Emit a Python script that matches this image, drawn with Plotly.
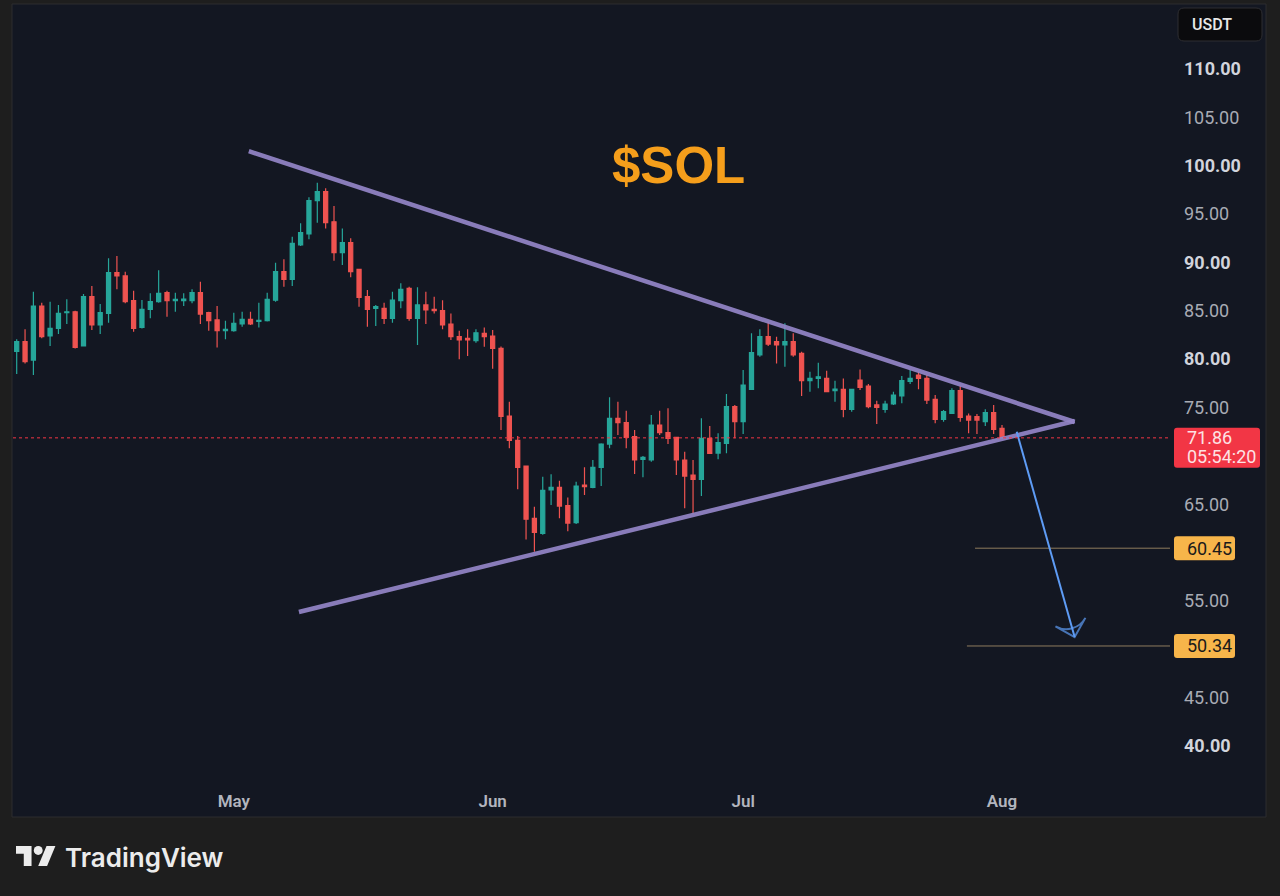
import pandas as pd
import plotly.graph_objects as go

# ── Data: SOL/USDT daily candles ───────────────────────────────
start_day = "2026-04-05"

opens = [80.8, 81.8, 79.9, 85.49, 82.39, 83.18, 84.8, 84.9, 81.36, 86.46,
         83.53, 84.73, 88.94, 88.6, 86.05, 83.28, 85.15, 85.94, 86.87, 86.05,
         86.05, 86.05, 86.87, 84.8, 84.05, 82.94, 82.94, 83.63, 84.11, 83.9,
         83.98, 86.1, 89.04, 88.25, 91.8, 92.94, 96.39, 97.32, 94.2, 91.01,
         92.04, 89.28, 86.46, 85.25, 85.25, 84.22, 86.04, 87.32, 84.22, 85.6,
         85.15, 85.01, 83.63, 82.32, 82.15, 81.91, 82.66, 82.39, 81.11, 74.12,
         71.6, 68.95, 63.53, 61.99, 66.47, 66.74, 64.85, 63.09, 66.98, 66.74,
         68.81, 71.22, 73.88, 73.43, 71.98, 69.64, 69.57, 73.19, 72.4, 71.91,
         69.57, 68.02, 67.57, 71.81, 70.29, 71.29, 75.08, 73.53, 76.88, 80.43,
         82.32, 81.8, 81.46, 81.8, 80.6, 77.77, 78.01, 78.01, 76.74, 76.88,
         74.81, 77.84, 77.22, 75.26, 74.81, 75.36, 76.19, 77.7, 78.36, 78.01,
         75.84, 73.77, 74.39, 76.74, 74.12, 74.05, 73.53, 74.46, 72.84]
highs = [82.05, 83.1, 86.97, 85.84, 85.94, 85.6, 86.18, 85.0, 86.73, 87.56,
         85.7, 90.42, 90.66, 89.04, 87.08, 86.11, 86.8, 89.2, 87.08, 86.87,
         86.8, 87.22, 88.01, 84.9, 85.49, 83.98, 84.8, 84.9, 84.9, 85.84,
         86.87, 89.97, 90.32, 92.66, 94.04, 96.73, 98.25, 97.66, 95.83, 93.52,
         92.49, 89.3, 87.15, 85.6, 85.84, 86.97, 87.84, 87.49, 87.42, 86.97,
         86.46, 86.1, 84.73, 82.94, 83.08, 83.08, 83.28, 83.0, 81.3, 75.6,
         72.05, 69.0, 64.74, 67.84, 68.1, 67.43, 65.7, 67.33, 68.81, 69.57,
         71.3, 76.05, 75.6, 74.67, 72.67, 69.98, 74.22, 74.67, 74.91, 71.95,
         70.43, 69.57, 73.88, 73.09, 72.33, 76.39, 75.26, 78.87, 82.67, 83.08,
         83.87, 82.32, 83.7, 82.67, 80.77, 78.7, 79.63, 78.8, 77.77, 78.01,
         76.95, 78.94, 77.43, 75.7, 75.7, 76.63, 78.25, 78.87, 78.7, 78.36,
         76.29, 74.74, 76.98, 77.22, 74.39, 74.33, 74.81, 75.26, 73.19]
lows = [78.46, 79.56, 78.36, 82.15, 81.36, 82.6, 83.63, 81.1, 81.3, 83.0,
        82.6, 83.77, 87.22, 85.77, 82.84, 83.18, 84.22, 85.84, 84.39, 84.9,
        85.49, 85.77, 83.63, 82.94, 81.2, 82.05, 82.84, 83.36, 83.53, 83.28,
        83.9, 85.94, 87.49, 87.56, 91.7, 92.39, 94.11, 93.52, 90.18, 89.73,
        88.46, 85.42, 83.36, 83.42, 83.63, 83.77, 85.25, 83.98, 81.46, 83.63,
        84.73, 83.08, 81.98, 79.98, 80.32, 81.7, 81.29, 79.0, 72.67, 70.78,
        66.55, 61.36, 60.09, 61.85, 64.92, 63.54, 62.2, 62.95, 65.95, 66.64,
        66.88, 70.78, 72.15, 70.78, 68.12, 67.78, 69.4, 72.15, 71.22, 68.02,
        64.57, 64.05, 65.85, 70.19, 69.64, 70.26, 71.81, 72.26, 76.81, 80.25,
        81.36, 79.56, 79.22, 80.25, 76.19, 76.63, 76.98, 76.6, 75.6, 73.98,
        74.57, 76.81, 74.91, 73.29, 74.46, 75.26, 75.43, 77.43, 76.88, 75.36,
        73.36, 73.53, 74.33, 73.53, 72.33, 72.26, 73.08, 72.26, 71.81]
closes = [81.8, 79.73, 85.49, 82.32, 83.18, 84.73, 84.9, 81.2, 86.46, 83.53,
          84.8, 88.94, 88.6, 85.94, 83.18, 85.15, 85.94, 86.8, 86.05, 86.18,
          86.2, 86.87, 84.66, 83.98, 82.94, 83.08, 83.7, 84.11, 83.63, 84.0,
          86.18, 89.04, 88.25, 91.97, 93.08, 96.39, 97.32, 94.11, 91.01, 92.04,
          89.04, 86.39, 85.15, 85.42, 84.22, 86.1, 87.22, 84.22, 85.6, 85.08,
          85.0, 83.53, 82.32, 81.98, 81.98, 82.73, 82.32, 81.11, 74.08, 71.6,
          68.8, 63.45, 62.08, 66.43, 66.74, 64.81, 63.05, 66.88, 66.81, 68.81,
          71.22, 73.88, 73.43, 71.91, 69.57, 69.85, 73.19, 72.4, 71.81, 69.57,
          67.91, 67.57, 71.81, 70.26, 71.36, 75.08, 73.53, 77.32, 80.67, 82.32,
          81.56, 81.46, 81.8, 80.43, 77.77, 78.01, 78.18, 76.63, 76.9, 74.81,
          76.88, 77.08, 75.08, 75.0, 75.36, 76.29, 77.77, 78.01, 78.01, 75.77,
          73.77, 74.57, 76.74, 73.98, 73.7, 73.7, 74.46, 72.74, 71.86]
dates = pd.date_range(start_day, periods=len(closes), freq="D")

# drawings on the chart: (time, price) pairs
upper_line_x = ["2026-05-02 19:12", "2026-08-09 16:48"]
upper_line_y = [101.5, 73.5]
lower_line_x = ["2026-05-08 19:12", "2026-08-09 16:48"]
lower_line_y = [53.85, 73.6]
arrow_x = ["2026-08-02 18:14", "2026-08-09 16:48"]
arrow_y = [72.5, 51.26]
target_levels = [60.45, 50.34]
target_start = ["2026-07-28 18:30", "2026-07-27 19:12"]
countdown = "05:54:20"
y_ticks = [40, 45, 55, 65, 75, 80, 85, 90, 95, 100, 105, 110]

# ── Colours ────────────────────────────────────────────
GREEN = "#26a69a"
RED = "#ef5350"
LABEL_RED = "#f23645"
PURPLE = "rgba(148,134,200,0.92)"
BLUE = "#5e9cf5"
ORANGE = "#f7b54a"
TAN = "#8f7c5e"
PANEL = "#131722"
OUTER = "#1e1e1e"

# ── Pixel geometry of the plot area ────────────────────
W, H = 1280, 896
PL, PR, PT, PB = 13, 1170, 5, 785
DAY_PX, FIRST_PX = 8.35, 16.7       # candle spacing, first candle centre
UNIT_PX, Y110_PX = 9.671, 69        # px per 1 USDT, pixel row of 110.00


def px(x):
    return (x - PL) / (PR - PL)


def py(y):
    return (PB - y) / (PB - PT)


t0 = pd.Timestamp(start_day)
x_lo = t0 + pd.Timedelta(days=(PL - FIRST_PX) / DAY_PX)
x_hi = t0 + pd.Timedelta(days=(PR - FIRST_PX) / DAY_PX)
y_lo = 110 - (PB - Y110_PX) / UNIT_PX
y_hi = 110 + (Y110_PX - PT) / UNIT_PX


def rr_path(w, top, bottom, r):
    # rounded rect in pixel offsets (x right, y up)
    return (f"M {r},{top} L {w - r},{top} Q {w},{top} {w},{top - r} "
            f"L {w},{bottom + r} Q {w},{bottom} {w - r},{bottom} "
            f"L {r},{bottom} Q 0,{bottom} 0,{bottom + r} "
            f"L 0,{top - r} Q 0,{top} {r},{top} Z")


fig = go.Figure()

fig.add_trace(go.Candlestick(
    x=dates, open=opens, high=highs, low=lows, close=closes,
    increasing=dict(line=dict(color=GREEN, width=1.2), fillcolor=GREEN),
    decreasing=dict(line=dict(color=RED, width=1.2), fillcolor=RED),
    whiskerwidth=0, hoverinfo="skip", showlegend=False))

# triangle
for lx, ly in [(upper_line_x, upper_line_y), (lower_line_x, lower_line_y)]:
    fig.add_trace(go.Scatter(x=lx, y=ly, mode="lines",
                             line=dict(color=PURPLE, width=4.5),
                             hoverinfo="skip", showlegend=False))

# target levels
for lvl, xs in zip(target_levels, target_start):
    fig.add_trace(go.Scatter(x=[xs, x_hi], y=[lvl, lvl], mode="lines",
                             line=dict(color=TAN, width=1),
                             hoverinfo="skip", showlegend=False))

# breakdown arrow
fig.add_trace(go.Scatter(
    x=arrow_x, y=arrow_y, mode="lines+markers",
    line=dict(color=BLUE, width=2),
    marker=dict(symbol="arrow-wide-open", size=[0, 22], angleref="previous",
                color=BLUE, line=dict(color=BLUE, width=2)),
    hoverinfo="skip", showlegend=False))

shapes = [
    # chart panel
    dict(type="rect", xref="paper", yref="paper", layer="below",
         x0=px(12), x1=px(1266), y0=py(817), y1=py(4),
         fillcolor=PANEL, line=dict(color="#2c2c2e", width=1)),
    # last price dotted line
    dict(type="line", xref="paper", yref="y", x0=0, x1=1,
         y0=closes[-1], y1=closes[-1],
         line=dict(color=LABEL_RED, width=1, dash="dot")),
    # last price label
    dict(type="path", xref="paper", yref="y", xsizemode="pixel",
         ysizemode="pixel", xanchor=px(1174), yanchor=closes[-1],
         path=rr_path(86, 10, -30, 3), fillcolor=LABEL_RED,
         line=dict(width=0), layer="above"),
    # USDT box
    dict(type="path", xref="paper", yref="paper", xsizemode="pixel",
         ysizemode="pixel", xanchor=px(1178), yanchor=py(41),
         path=rr_path(84, 33, 0, 6), fillcolor="#0b0b0d",
         line=dict(color="#2e2e32", width=1), layer="above"),
]
for lvl in target_levels:
    shapes.append(dict(type="path", xref="paper", yref="y", xsizemode="pixel",
                       ysizemode="pixel", xanchor=px(1174), yanchor=lvl,
                       path=rr_path(61, 12, -12, 3), fillcolor=ORANGE,
                       line=dict(width=0), layer="above"))

# TradingView logo (36x28 mark)
S, LX, LY = 1.11, 16, 841.6


def logo(pts):
    return "M " + " L ".join(f"{px(LX + S * u)},{py(LY + S * v)}"
                             for u, v in pts) + " Z"


shapes.append(dict(type="path", xref="paper", yref="paper",
                   path=logo([(14, 22), (7, 22), (7, 11), (0, 11), (0, 4), (14, 4)]),
                   fillcolor="#ececec", line=dict(width=0)))
shapes.append(dict(type="path", xref="paper", yref="paper",
                   path=logo([(28, 22), (20, 22), (27.5, 4), (35.5, 4)]),
                   fillcolor="#ececec", line=dict(width=0)))
shapes.append(dict(type="circle", xref="paper", yref="paper",
                   x0=px(LX + S * 16), x1=px(LX + S * 24),
                   y0=py(LY + S * 12), y1=py(LY + S * 4),
                   fillcolor="#ececec", line=dict(width=0)))

annotations = [
    dict(text="$SOL", xref="paper", yref="paper", x=px(678), y=py(165),
         xanchor="center", yanchor="middle", showarrow=False,
         font=dict(family="Liberation Sans, Arial", size=51, color="#f59e1b",
                   weight="bold")),
    dict(text="USDT", xref="paper", yref="paper", x=px(1190), y=py(24.5),
         xanchor="left", yanchor="middle", showarrow=False,
         font=dict(family="Roboto", size=16, color="#e8e8e8", weight=500)),
    dict(text=f"{closes[-1]:.2f}", xref="paper", yref="y", x=px(1185),
         y=closes[-1], yshift=0, xanchor="left", yanchor="middle",
         showarrow=False, font=dict(family="Roboto", size=18, color="#fde2e4")),
    dict(text=countdown, xref="paper", yref="y", x=px(1185),
         y=closes[-1], yshift=-19, xanchor="left", yanchor="middle",
         showarrow=False, font=dict(family="Roboto", size=18, color="#fde2e4")),
    dict(text="TradingView", xref="paper", yref="paper", x=px(63), y=py(857),
         xanchor="left", yanchor="middle", showarrow=False,
         font=dict(family="Inter", size=26, color="#ececec", weight=600)),
]
for lvl in target_levels:
    annotations.append(dict(text=f"{lvl:.2f}", xref="paper", yref="y",
                            x=px(1185), y=lvl, xanchor="left", yanchor="middle",
                            showarrow=False,
                            font=dict(family="Roboto", size=18, color="#1a1a1a")))

tick_text = [f'<span style="color:#d1d4dc"><b>{v:.2f}</b></span>' if v % 10 == 0
             else f'<span style="color:#a8abb4">{v:.2f}</span>' for v in y_ticks]

fig.update_layout(
    width=W, height=H, autosize=False,
    margin=dict(l=PL, r=W - PR, t=PT, b=H - PB, pad=0),
    paper_bgcolor=OUTER, plot_bgcolor=PANEL,
    showlegend=False, hovermode=False,
    shapes=shapes, annotations=annotations,
    xaxis=dict(type="date", range=[x_lo, x_hi], dtick="M1",
               tick0="2026-05-01", tickformat="%b", ticks="",
               showgrid=False, zeroline=False, showline=False,
               rangeslider=dict(visible=False), automargin=False,
               ticklabelstandoff=4,
               tickfont=dict(family="Roboto", size=17, color="#b2b5be",
                             weight=600)),
    yaxis=dict(side="right", range=[y_lo, y_hi], tickvals=y_ticks,
               ticktext=tick_text, ticks="", showgrid=False, zeroline=False,
               showline=False, automargin=False, ticklabelstandoff=13,
               tickfont=dict(family="Roboto", size=18, color="#b2b5be")),
)

fig.write_html("out.html", config={"displayModeBar": False},
               post_script="document.body.style.margin='0';"
                           "document.body.style.overflow='hidden';")
